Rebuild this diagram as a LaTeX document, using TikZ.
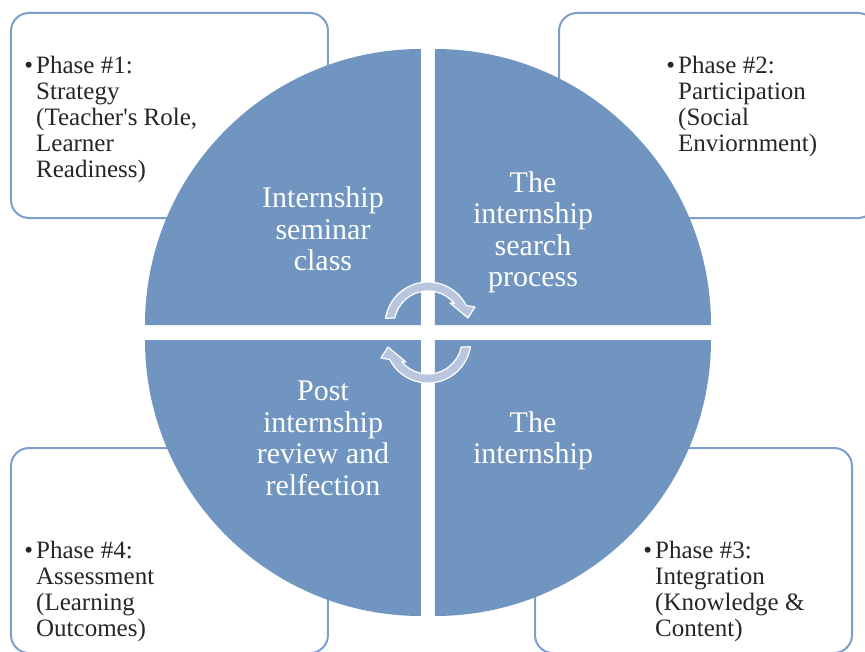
\documentclass[tikz,border=0pt]{standalone}
\usepackage{fontspec}
\setmainfont{Liberation Serif}
\usetikzlibrary{positioning}

\definecolor{wedgeblue}{RGB}{111,149,192}
\definecolor{frameblue}{RGB}{124,160,202}
\definecolor{turnfill}{RGB}{186,198,222}

\begin{document}
\begin{tikzpicture}[x=1pt, y=1pt,
    panel/.style={draw=frameblue, line width=2pt, fill=white, rounded corners=18pt},
    wedge/.style={fill=wedgeblue},
    phase/.style={inner sep=0pt, anchor=north west, align=left, text=black!85,
                  font=\fontsize{25}{26}\selectfont},
    stage/.style={inner sep=0pt, align=center, text=white,
                  font=\fontsize{30}{31.5}\selectfont},
    turn/.style={fill=turnfill, draw=white, line width=1.2pt, line join=round}
  ]
  \useasboundingbox (-428,-318.5) rectangle (437,332.5);

  % Phase boxes (behind the circle)
  \draw[panel] (-417,114.5) rectangle (-100,319.5);
  \draw[panel] (131,114.5)  rectangle (448,319.5);
  \draw[panel] (-417,-320.5) rectangle (-100,-115.5);
  \draw[panel] (107,-320.5) rectangle (424,-115.5);

  \node[phase] (ph1) at (-392,276.5) {\llap{\textbullet\hspace{3pt}}Phase \#1:\\Strategy\\(Teacher\textquotesingle s Role,\\Learner\\Readiness)};
  \node[phase] (ph2) at (250,276.5)  {\llap{\textbullet\hspace{3pt}}Phase \#2:\\Participation\\(Social\\Enviornment)};
  \node[phase] (ph3) at (227,-208.5) {\llap{\textbullet\hspace{3pt}}Phase \#3:\\Integration\\(Knowledge \&\\Content)};
  \node[phase] (ph4) at (-392,-208.5) {\llap{\textbullet\hspace{3pt}}Phase \#4:\\Assessment\\(Learning\\Outcomes)};

  % Four quarter wedges, white cross left between them
  \fill[wedge] (-7,7.5)  -- ++(-276,0) arc[start angle=180, end angle=90,  radius=276pt] -- cycle;
  \fill[wedge] (7,7.5)   -- ++(0,276)  arc[start angle=90,  end angle=0,   radius=276pt] -- cycle;
  \fill[wedge] (7,-7.5)  -- ++(276,0)  arc[start angle=0,   end angle=-90, radius=276pt] -- cycle;
  \fill[wedge] (-7,-7.5) -- ++(0,-276) arc[start angle=270, end angle=180, radius=276pt] -- cycle;

  \node[stage] (st1) at (-105,103.5) {Internship\\seminar\\class};
  \node[stage] (st2) at (105,100)    {The\\internship\\search\\process};
  \node[stage] (st3) at (105,-108.5) {The\\internship};
  \node[stage] (st4) at (-105,-106)  {Post\\internship\\review and\\relfection};

  % Circular arrows in the middle
  \foreach \ang in {0,180}
    \draw[turn, rotate=\ang, shift={(0,7.5)}]
      (171:43pt) arc[start angle=171, end angle=27, radius=43pt]
      -- (47,18) -- (40,7) -- (22,22)
      -- (39:34pt) arc[start angle=39, end angle=168, radius=34pt] -- cycle;
\end{tikzpicture}
\end{document}
